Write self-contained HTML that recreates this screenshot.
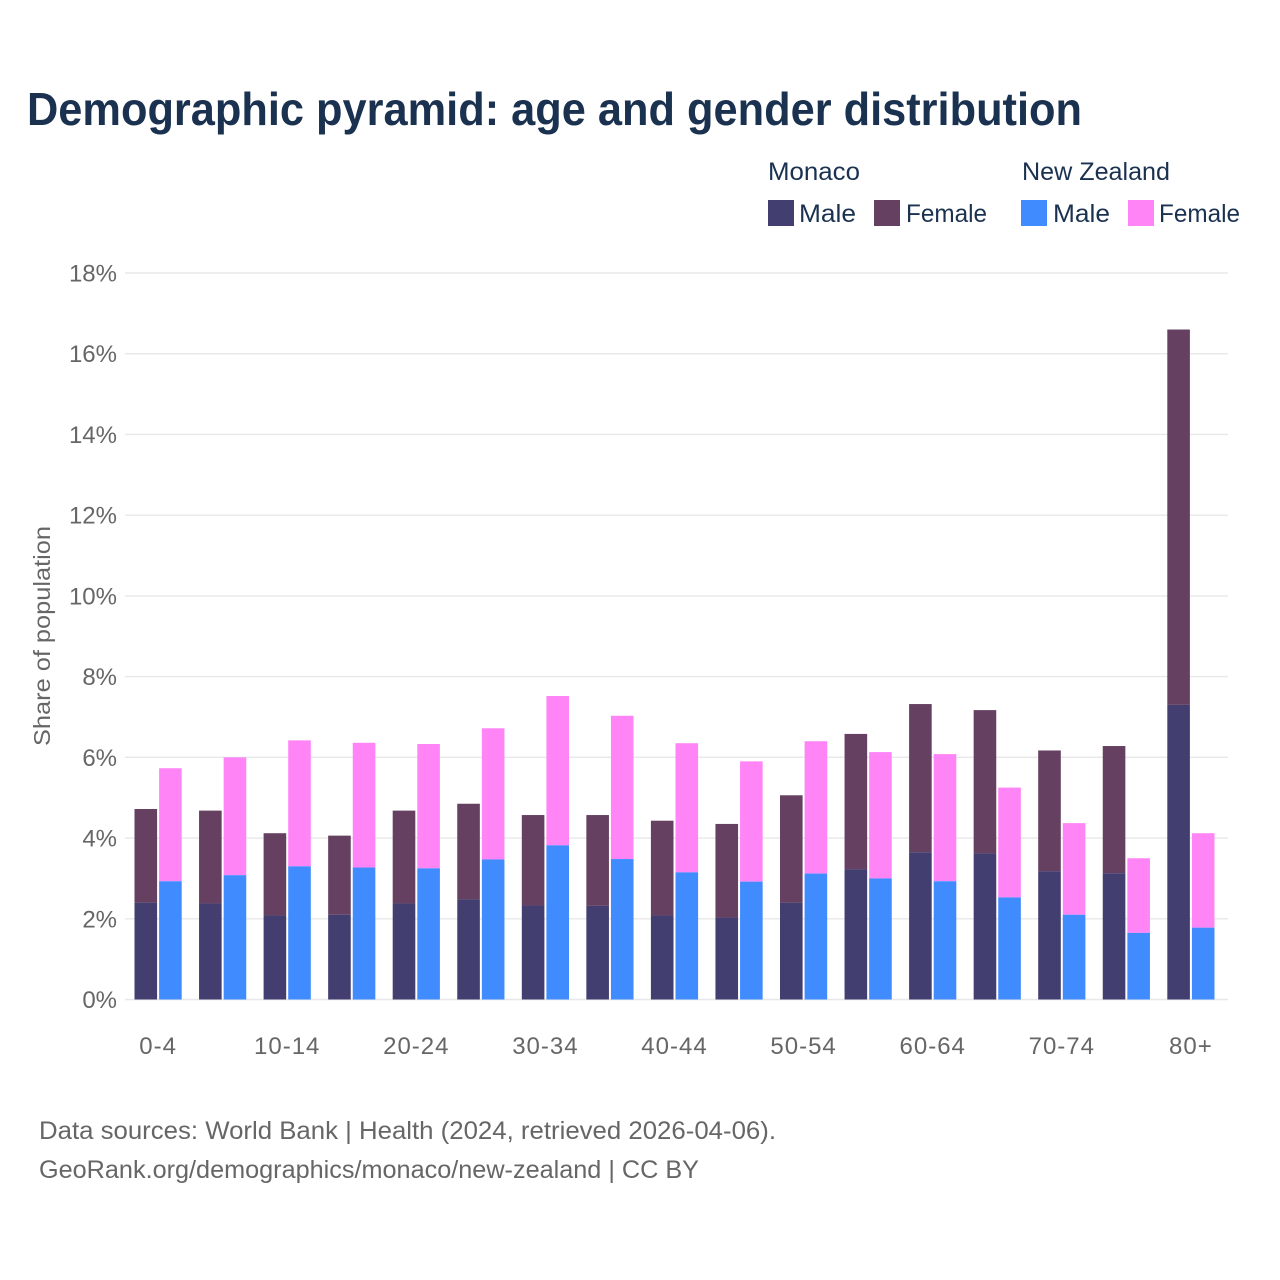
<!DOCTYPE html>
<html lang="en">
<head>
<meta charset="utf-8">
<title>Demographic pyramid: age and gender distribution</title>
<style>
html,body{margin:0;padding:0;background:#fff;}
svg{display:block;}
text{font-family:"Liberation Sans",sans-serif;}
</style>
</head>
<body>
<svg id="chart" xmlns="http://www.w3.org/2000/svg" width="1280" height="1280" viewBox="0 0 1280 1280">
  <rect x="0" y="0" width="1280" height="1280" fill="#ffffff"/>
  <text x="27" y="125" font-size="46" font-weight="700" fill="#1a3150" textLength="1055" lengthAdjust="spacingAndGlyphs">Demographic pyramid: age and gender distribution</text>

  <g id="gridlines"></g>
  <g id="bars"></g>
  <g id="y-ticks"></g>
  <g id="x-ticks"></g>

  <text transform="translate(50,636) rotate(-90)" text-anchor="middle" font-size="23" fill="#666666" textLength="220" lengthAdjust="spacingAndGlyphs">Share of population</text>

  <g>
    <text x="768" y="180" font-size="25" fill="#1a3150" textLength="92" lengthAdjust="spacingAndGlyphs">Monaco</text>
    <rect x="768" y="200" width="26" height="26" fill="#433e70"/>
    <text x="799" y="222" font-size="25" fill="#1a3150" textLength="57" lengthAdjust="spacingAndGlyphs">Male</text>
    <rect x="874" y="200" width="26" height="26" fill="#664060"/>
    <text x="906" y="222" font-size="25" fill="#1a3150" textLength="81" lengthAdjust="spacingAndGlyphs">Female</text>
    <text x="1022" y="180" font-size="25" fill="#1a3150" textLength="148" lengthAdjust="spacingAndGlyphs">New Zealand</text>
    <rect x="1021" y="200" width="26" height="26" fill="#408cff"/>
    <text x="1053" y="222" font-size="25" fill="#1a3150" textLength="57" lengthAdjust="spacingAndGlyphs">Male</text>
    <rect x="1128" y="200" width="26" height="26" fill="#ff85f7"/>
    <text x="1159" y="222" font-size="25" fill="#1a3150" textLength="81" lengthAdjust="spacingAndGlyphs">Female</text>
  </g>

  <text x="39" y="1139" font-size="25" fill="#666666" textLength="737" lengthAdjust="spacingAndGlyphs">Data sources: World Bank | Health (2024, retrieved 2026-04-06).</text>
  <text x="39" y="1178" font-size="25" fill="#666666" textLength="660" lengthAdjust="spacingAndGlyphs">GeoRank.org/demographics/monaco/new-zealand | CC BY</text>
</svg>
<script>
const ageGroups = ["0-4","5-9","10-14","15-19","20-24","25-29","30-34","35-39","40-44","45-49","50-54","55-59","60-64","65-69","70-74","75-79","80+"];
const monacoMale = [2.40,2.38,2.08,2.10,2.38,2.48,2.33,2.32,2.08,2.03,2.40,3.23,3.65,3.62,3.18,3.13,7.30];
const monacoFemale = [2.32,2.30,2.04,1.96,2.30,2.37,2.24,2.25,2.35,2.32,2.66,3.35,3.67,3.55,2.99,3.15,9.30];
const newZealandMale = [2.93,3.08,3.30,3.27,3.25,3.47,3.82,3.48,3.15,2.92,3.12,3.00,2.93,2.53,2.10,1.65,1.78];
const newZealandFemale = [2.80,2.92,3.12,3.09,3.08,3.25,3.70,3.55,3.20,2.98,3.28,3.13,3.15,2.72,2.27,1.85,2.34];
const yTicks = [0,2,4,6,8,10,12,14,16,18];
const xTickLabels = ["0-4","10-14","20-24","30-34","40-44","50-54","60-64","70-74","80+"];

const NS = "http://www.w3.org/2000/svg";
const plotLeft = 125, plotRight = 1228, plotBottom = 999.5, plotTop = 273;
const yMax = 18;
const firstCenter = 158.1, groupStep = 64.55, barWidth = 22.6, barOffset = 12.3;
function yScale(v){ return plotBottom - (v / yMax) * (plotBottom - plotTop); }
function xScale(label){ return firstCenter + ageGroups.indexOf(label) * groupStep; }

const gridG = document.getElementById("gridlines");
const barsG = document.getElementById("bars");
const yG = document.getElementById("y-ticks");
const xG = document.getElementById("x-ticks");

yTicks.forEach(function(t){
  const line = document.createElementNS(NS, "line");
  
  
  line.setAttribute("x1", plotLeft);
  line.setAttribute("x2", plotRight);
  line.setAttribute("y1", yScale(t));
  line.setAttribute("y2", yScale(t));
  line.setAttribute("stroke", "#e8e8e8");
  line.setAttribute("stroke-width", "1.4");
  gridG.appendChild(line);

  const label = document.createElementNS(NS, "text");
  
  
  label.setAttribute("x", 117);
  label.setAttribute("y", yScale(t) + 8.5);
  label.setAttribute("text-anchor", "end");
  label.setAttribute("font-size", "24");
  label.setAttribute("fill", "#666666");
  label.textContent = t + "%";
  yG.appendChild(label);
});

function addBar(cx, base, value, fill){
  const r = document.createElementNS(NS, "rect");
  
  
  const top = yScale(base + value);
  r.setAttribute("x", cx - barWidth / 2);
  r.setAttribute("y", top);
  r.setAttribute("width", barWidth);
  r.setAttribute("height", yScale(base) - top);
  r.setAttribute("fill", fill);
  barsG.appendChild(r);
}

ageGroups.forEach(function(g, i){
  const c = xScale(g);
  addBar(c - barOffset, monacoMale[i], monacoFemale[i], "#664060");
  addBar(c - barOffset, 0, monacoMale[i], "#433e70");
  addBar(c + barOffset, newZealandMale[i], newZealandFemale[i], "#ff85f7");
  addBar(c + barOffset, 0, newZealandMale[i], "#408cff");
});

xTickLabels.forEach(function(l){
  const t = document.createElementNS(NS, "text");
  
  
  t.setAttribute("x", xScale(l));
  t.setAttribute("y", 1054);
  t.setAttribute("text-anchor", "middle");
  t.setAttribute("font-size", "24");
  t.setAttribute("letter-spacing", "1");
  t.setAttribute("fill", "#666666");
  t.textContent = l;
  xG.appendChild(t);
});
</script>
</body>
</html>
